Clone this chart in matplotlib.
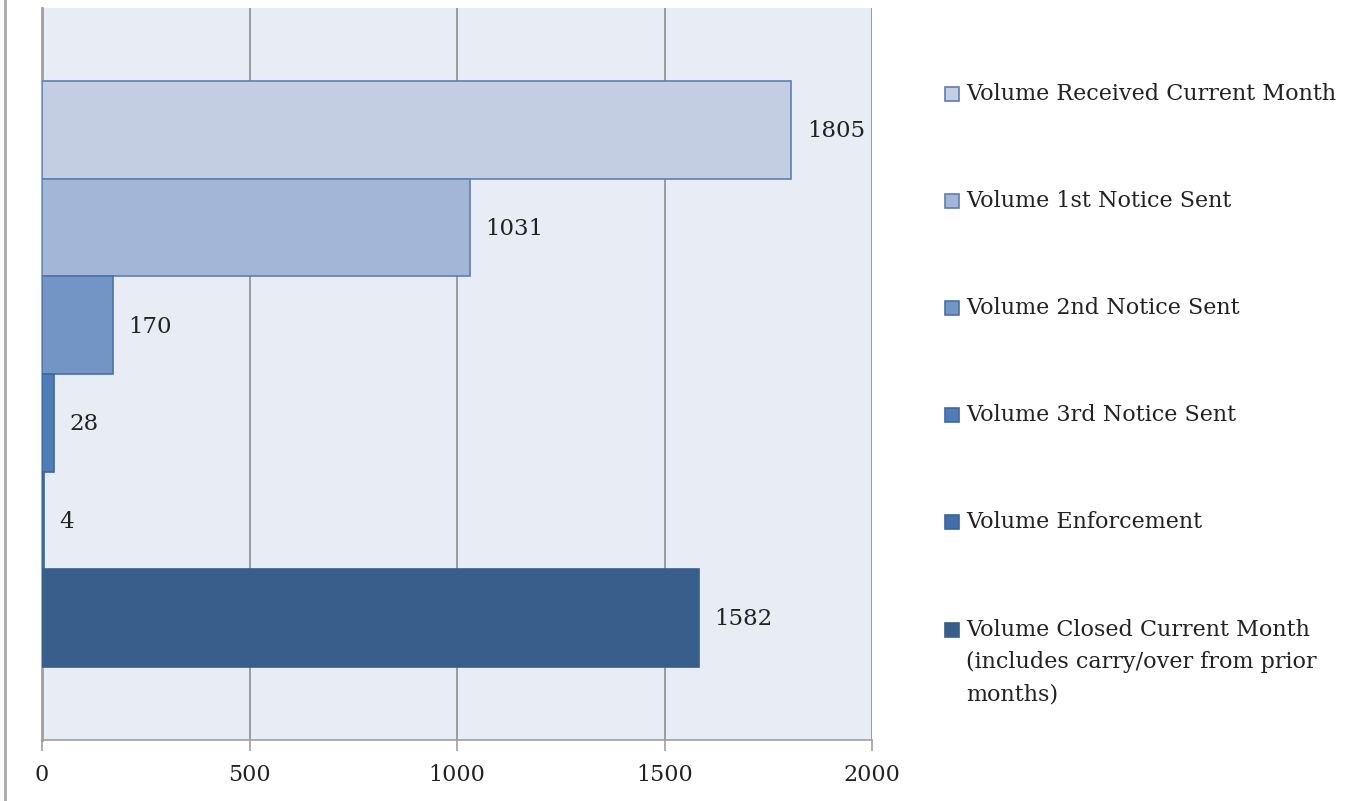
import matplotlib.pyplot as plt
import matplotlib.patches as mpatches
import numpy as np

plt.rcParams['font.family'] = ['DejaVu Serif']

# data
labels = ['Volume Received Current Month',
          'Volume 1st Notice Sent',
          'Volume 2nd Notice Sent',
          'Volume 3rd Notice Sent',
          'Volume Enforcement',
          'Volume Closed Current Month\n(includes carry/over from prior\nmonths)']
values = [1805, 1031, 170, 28, 4, 1582]
colors = ['#C3CEE3', '#A3B6D7', '#7395C5', '#4F7DB8', '#416FAA', '#385E8B']
edges = ['#5B80B2', '#5B80B2', '#4A72AA', '#3C68A4', '#3A66A0', '#385E8B']

fig = plt.figure(figsize=(13.7, 8.01), dpi=100)
ax = fig.add_axes([42 / 1370, 61 / 801, 830 / 1370, 732 / 801])
ax.set_facecolor('#E8ECF4')

n = len(values)
h = 0.8 / n
ys = 0.4 - h / 2 - np.arange(n) * h
bars = ax.barh(ys, values, height=h, color=colors, edgecolor=edges, linewidth=1.2, zorder=3)

for y, v in zip(ys, values):
    ax.text(v + 38, y - 0.002, str(v), va='center', ha='left', fontsize=16.5, color='#222222', zorder=4)

ax.set_xlim(0, 2000)
ax.set_ylim(-0.5, 0.5)
ax.set_xticks([0, 500, 1000, 1500, 2000])
ax.set_yticks([])
ax.xaxis.grid(True, color='#8C8C8C', linewidth=1.2, zorder=1)
ax.tick_params(axis='x', length=8, color='#A0A0A0', width=1.2, labelsize=16, pad=9, labelcolor='#222222')
for s in ['top', 'right']:
    ax.spines[s].set_visible(False)
ax.spines['left'].set_color('#A0A0A0')
ax.spines['left'].set_linewidth(2)
ax.spines['bottom'].set_color('#A0A0A0')
ax.spines['bottom'].set_linewidth(1.2)

# frame line at left edge of the picture
fig.add_artist(plt.Line2D([5 / 1370, 5 / 1370], [0, 1], color='#A8A8A8', linewidth=2))

# legend on the right
leg_y = [94, 201, 308, 415, 522, 630]
for lab, c, e, yy in zip(labels, colors, edges, leg_y):
    yf = 1 - yy / 801
    sq = 14
    fig.add_artist(mpatches.Rectangle((945 / 1370, yf - (sq / 2) / 801), sq / 1370, sq / 801,
                                      facecolor=c, edgecolor=e, linewidth=1.2))
    if '\n' in lab:
        fig.text(966 / 1370, yf + 11 / 801, lab, va='top', ha='left', fontsize=16,
                 color='#222222', linespacing=1.6)
    else:
        fig.text(966 / 1370, yf, lab, va='center', ha='left', fontsize=16, color='#222222')

fig.savefig('out.png', dpi=100)
